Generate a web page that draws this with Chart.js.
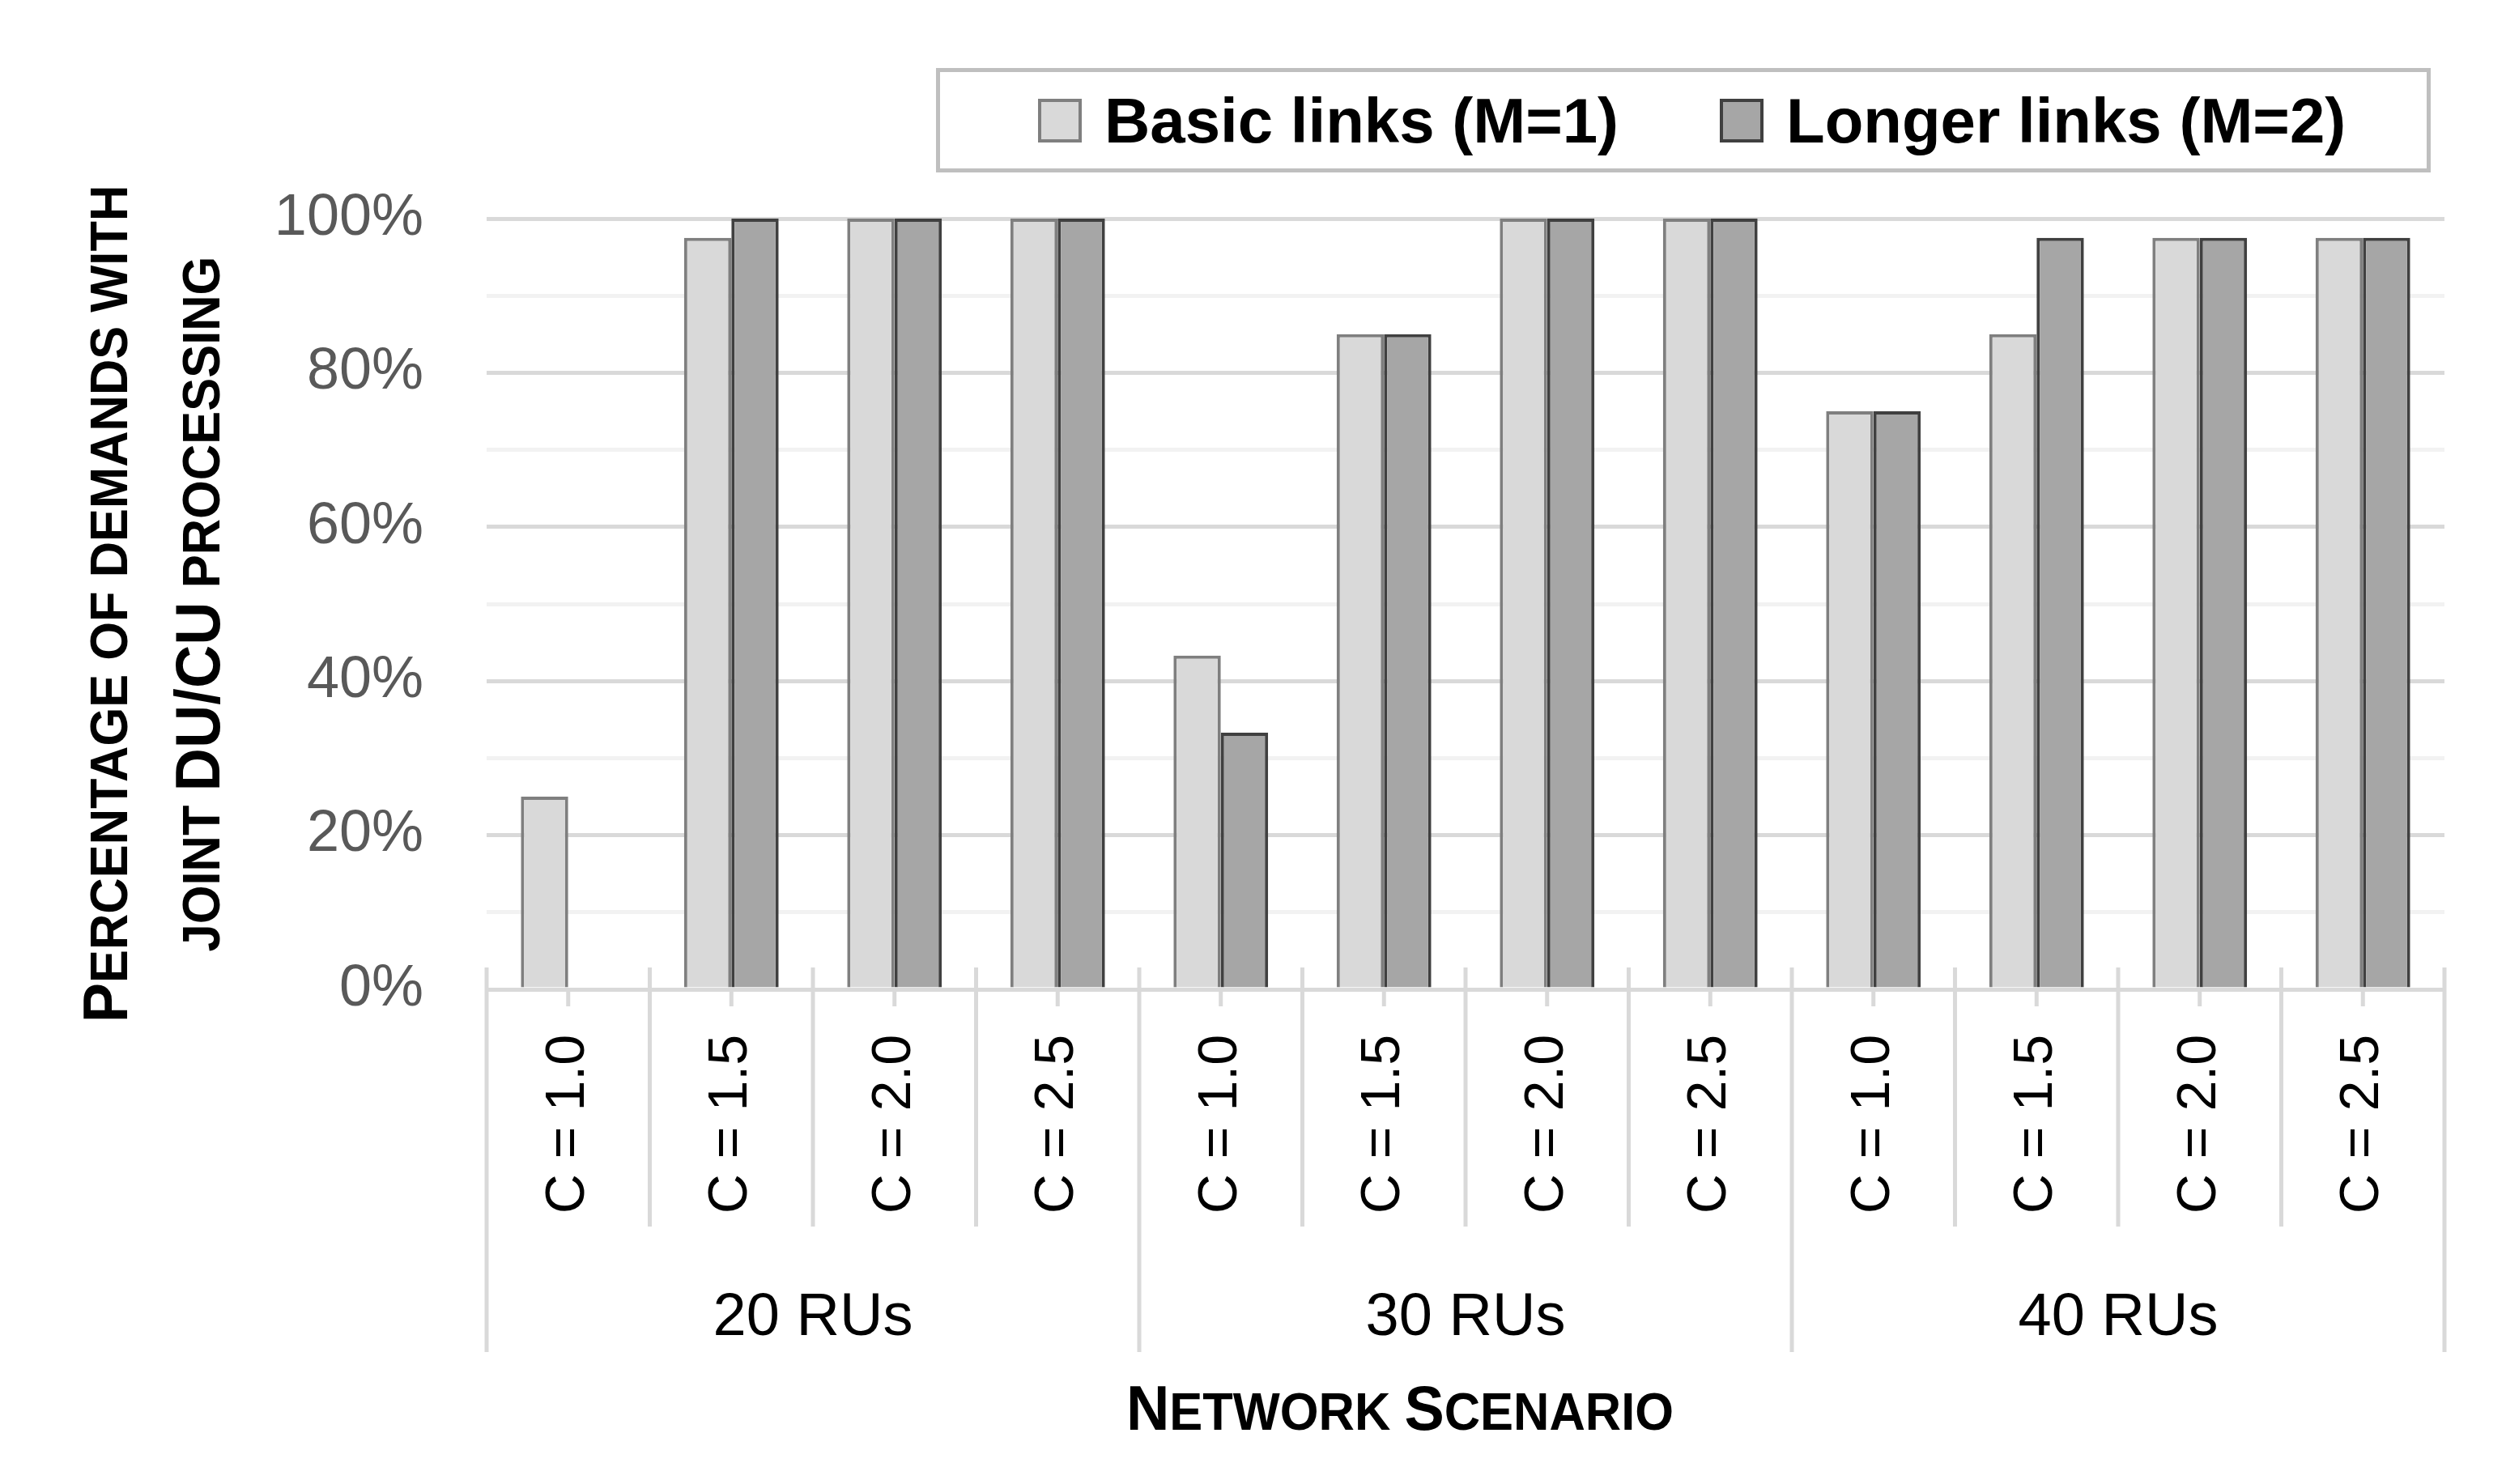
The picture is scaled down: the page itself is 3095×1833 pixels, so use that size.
<!DOCTYPE html>
<html>
<head>
<meta charset="utf-8">
<script src="https://cdn.jsdelivr.net/npm/chart.js@4.4.1/dist/chart.umd.min.js"></script>
<style>
  html, body { margin: 0; padding: 0; background: #fff; }
  canvas { display: block; }
</style>
</head>
<body>
<canvas id="chart" width="3095" height="1833"></canvas>
<script>
// values
const categories = ['C = 1.0', 'C = 1.5', 'C = 2.0', 'C = 2.5',
                    'C = 1.0', 'C = 1.5', 'C = 2.0', 'C = 2.5',
                    'C = 1.0', 'C = 1.5', 'C = 2.0', 'C = 2.5'];
const groups = ['20 RUs', '30 RUs', '40 RUs'];
const basicLinks = [25, 97.5, 100, 100, 43.3, 85, 100, 100, 75, 85, 97.5, 97.5];
const longerLinks = [0, 100, 100, 100, 33.3, 85, 100, 100, 75, 97.5, 97.5, 97.5];
const seriesNames = ['Basic links (M=1)', 'Longer links (M=2)'];
const yTicks = [0, 20, 40, 60, 80, 100];

const FONT = "'Liberation Sans', Arial, sans-serif";
const GRID = '#d9d9d9';
const GRID_MINOR = '#f2f2f2';

// small caps: big letters and small letters sharing one baseline
function drawSmallCaps(ctx, parts, x, y, angle) {
    const font = big => `bold ${big ? 77 : 64}px ${FONT}`;
    ctx.save();
    ctx.translate(x, y);
    ctx.rotate(angle);
    ctx.scale(0.96, 1); // a bit narrower, closer to the original face
    ctx.fillStyle = '#000';
    ctx.textBaseline = 'alphabetic';
    ctx.textAlign = 'left';
    const widths = parts.map(([t, big]) => { ctx.font = font(big); return ctx.measureText(t).width; });
    let pos = -widths.reduce((a, b) => a + b, 0) / 2;
    parts.forEach(([t, big], i) => {
        ctx.font = font(big);
        ctx.fillText(t, pos, 0);
        pos += widths[i];
    });
    ctx.restore();
}

const decorations = {
    id: 'decorations',
    afterDraw(chart) {
        const ctx = chart.ctx;
        const area = chart.chartArea;
        const x = chart.scales.x;
        const step = x.getPixelForValue(1) - x.getPixelForValue(0);
        const perGroup = categories.length / groups.length;

        ctx.save();
        // separators of the two-level category axis
        ctx.strokeStyle = GRID;
        ctx.lineWidth = 5;
        for (let i = 0; i <= categories.length; i++) {
            const px = x.getPixelForValue(0) - step / 2 + i * step;
            const end = i % perGroup === 0 ? area.bottom + 448 : area.bottom + 293;
            ctx.beginPath();
            ctx.moveTo(px, area.bottom - 27);
            ctx.lineTo(px, end);
            ctx.stroke();
        }
        // short marks under each category
        categories.forEach((c, i) => {
            const px = x.getPixelForValue(i);
            ctx.beginPath();
            ctx.moveTo(px, area.bottom);
            ctx.lineTo(px, area.bottom + 21);
            ctx.stroke();
        });

        // legend box
        ctx.strokeStyle = '#bfbfbf';
        ctx.lineWidth = 5;
        ctx.strokeRect(1158.5, 86.5, 1841, 124);
        const legendX = [1282, 2124];
        chart.data.datasets.forEach((ds, i) => {
            ctx.fillStyle = ds.backgroundColor;
            ctx.fillRect(legendX[i], 122, 54, 54);
            ctx.strokeStyle = ds.borderColor;
            ctx.lineWidth = 4;
            ctx.strokeRect(legendX[i] + 2, 124, 50, 50);
            ctx.fillStyle = '#000';
            ctx.font = `bold 78px ${FONT}`;
            ctx.textBaseline = 'alphabetic';
            ctx.textAlign = 'left';
            ctx.fillText(ds.label, legendX[i] + 82, 176);
        });
        ctx.restore();

        // axis titles
        const midY = (area.top + area.bottom) / 2;
        drawSmallCaps(ctx, [['P', true], ['ERCENTAGE OF DEMANDS WITH', false]], 157, midY, -Math.PI / 2);
        drawSmallCaps(ctx, [['JOINT ', false], ['DU/CU', true], [' PROCESSING', false]], 271, midY, -Math.PI / 2);
        drawSmallCaps(ctx, [['N', true], ['ETWORK ', false], ['S', true], ['CENARIO', false]], 1729, 1766, 0);
    }
};

new Chart(document.getElementById('chart'), {
    type: 'bar',
    data: {
        labels: categories,
        datasets: [{
            label: seriesNames[0],
            data: basicLinks,
            backgroundColor: '#d9d9d9',
            borderColor: '#7f7f7f',
            borderWidth: 4,
            categoryPercentage: 0.58,
            barPercentage: 1.0
        }, {
            label: seriesNames[1],
            data: longerLinks,
            backgroundColor: '#a6a6a6',
            borderColor: '#404040',
            borderWidth: 4,
            categoryPercentage: 0.58,
            barPercentage: 1.0
        }]
    },
    options: {
        responsive: false,
        animation: false,
        devicePixelRatio: 1,
        layout: { padding: { top: 270, right: 76, bottom: 0, left: 0 } },
        plugins: {
            legend: { display: false },
            tooltip: { enabled: false }
        },
        scales: {
            x: {
                weight: 0,
                offset: true,
                grid: { display: false, drawTicks: false },
                border: { display: false },
                ticks: {
                    autoSkip: false,
                    minRotation: 90,
                    maxRotation: 90,
                    padding: 56,
                    color: '#000',
                    font: { family: FONT, size: 68 }
                },
                afterFit: scale => { scale.height = 298; }
            },
            x2: {
                type: 'category',
                labels: groups,
                position: 'bottom',
                weight: 1,
                offset: true,
                grid: { display: false, drawTicks: false },
                border: { display: false },
                ticks: {
                    padding: 64,
                    color: '#000',
                    font: { family: FONT, size: 74 }
                },
                afterFit: scale => { scale.height = 313; }
            },
            y: {
                min: 0,
                max: 100,
                ticks: {
                    stepSize: 10,
                    padding: 78,
                    color: '#595959',
                    font: { family: FONT, size: 72 },
                    callback: v => yTicks.includes(v) ? v + '%' : ''
                },
                grid: {
                    drawTicks: false,
                    lineWidth: 5,
                    color: c => (c.tick && yTicks.includes(c.tick.value)) ? GRID : GRID_MINOR
                },
                border: { display: false },
                afterFit: scale => { scale.width = 601; }
            }
        }
    },
    plugins: [decorations]
});
</script>
</body>
</html>
